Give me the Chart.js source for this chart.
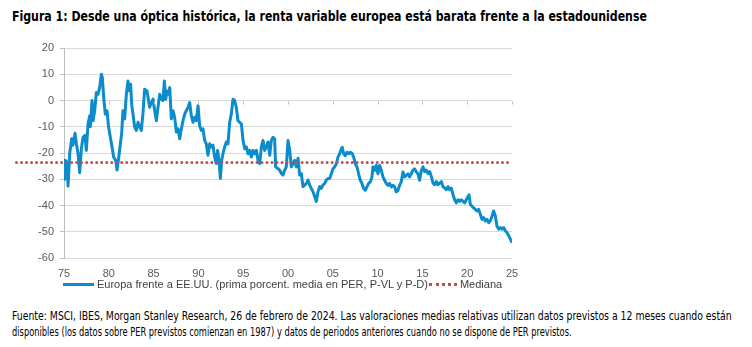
<!DOCTYPE html>
<html lang="es">
<head>
<meta charset="utf-8">
<title>Figura 1</title>
<script src="https://cdn.jsdelivr.net/npm/chart.js@4.4.1/dist/chart.umd.min.js"></script>
<style>
  html, body { margin: 0; padding: 0; background: #fff; }
  body { width: 752px; height: 347px; position: relative; overflow: hidden; }
  .fit { position: absolute; white-space: nowrap; transform-origin: 0 0; }
  #title { left: 12px; top: 8px; font: bold 14px "Liberation Sans Narrow", "DejaVu Sans Condensed", sans-serif; color: #000; }
  #chartBox { position: absolute; left: 0; top: 30px; width: 530px; height: 250px; }
  #legend { position: absolute; left: 63px; top: 278px; display: flex; align-items: center; font: 11px "Liberation Sans", Arial, sans-serif; color: #404040; white-space: nowrap; }
  #legend .solid { display: inline-block; width: 31px; border-top: 3px solid #0b8ccc; margin-right: 3px; }
  #legend .dots { display: inline-block; width: 28px; border-top: 3px dotted #c0504d; margin: 0 3px 0 1px; }
  .note { left: 12px; font: 12px "Liberation Sans Narrow", "DejaVu Sans Condensed", sans-serif; color: #000; }
  #note1 { top: 309px; }
  #note2 { top: 325px; }
</style>
</head>
<body>
<div id="title" class="fit" data-w="635">Figura 1: Desde una óptica histórica, la renta variable europea está barata frente a la estadounidense</div>
<div id="chartBox"><canvas id="chart" width="530" height="250"></canvas></div>
<div id="legend">
  <span class="solid"></span><span>Europa frente a EE.UU. (prima porcent. media en PER, P-VL y P-D)</span><span class="dots"></span><span>Mediana</span>
</div>
<div id="note1" class="fit note" data-w="720">Fuente: MSCI, IBES, Morgan Stanley Research, 26 de febrero de 2024. Las valoraciones medias relativas utilizan datos previstos a 12 meses cuando están</div>
<div id="note2" class="fit note" data-w="560">disponibles (los datos sobre PER previstos comienzan en 1987) y datos de periodos anteriores cuando no se dispone de PER previstos.</div>
<script>
(function() {
  'use strict';

  // fechas (año decimal)
  var dates = [
    1975.00, 1975.08, 1975.22, 1975.35, 1975.45, 1975.64, 1975.86, 1976.00, 1976.23, 1976.38,
    1976.56, 1976.75, 1976.94, 1977.12, 1977.35, 1977.49, 1977.68, 1977.87, 1977.94, 1978.13,
    1978.24, 1978.42, 1978.61, 1978.80, 1978.98, 1979.17, 1979.28, 1979.43, 1979.61, 1979.80,
    1979.98, 1980.17, 1980.36, 1980.54, 1980.77, 1980.92, 1981.10, 1981.29, 1981.43, 1981.58,
    1981.77, 1981.96, 1982.14, 1982.33, 1982.44, 1982.55, 1982.70, 1982.88, 1983.07, 1983.26,
    1983.44, 1983.63, 1983.81, 1984.00, 1984.26, 1984.56, 1984.75, 1984.94, 1985.12, 1985.31,
    1985.49, 1985.68, 1985.87, 1986.05, 1986.20, 1986.35, 1986.50, 1986.68, 1986.80, 1986.98,
    1987.17, 1987.35, 1987.54, 1987.73, 1987.91, 1988.10, 1988.28, 1988.47, 1988.65, 1988.84,
    1989.03, 1989.21, 1989.40, 1989.58, 1989.77, 1989.96, 1990.14, 1990.33, 1990.51, 1990.70,
    1990.88, 1991.07, 1991.26, 1991.44, 1991.63, 1991.81, 1992.00, 1992.15, 1992.30, 1992.45,
    1992.60, 1992.74, 1992.93, 1993.12, 1993.30, 1993.49, 1993.67, 1993.86, 1994.04, 1994.23,
    1994.42, 1994.60, 1994.80, 1994.98, 1995.17, 1995.35, 1995.54, 1995.73, 1995.91, 1996.10,
    1996.28, 1996.47, 1996.65, 1996.84, 1997.03, 1997.21, 1997.40, 1997.58, 1997.77, 1997.96,
    1998.14, 1998.33, 1998.51, 1998.62, 1998.89, 1999.07, 1999.26, 1999.44, 1999.63, 1999.81,
    2000.00, 2000.19, 2000.37, 2000.56, 2000.74, 2000.93, 2001.12, 2001.30, 2001.49, 2001.67,
    2001.86, 2002.05, 2002.23, 2002.42, 2002.60, 2002.79, 2002.97, 2003.16, 2003.35, 2003.53,
    2003.72, 2003.90, 2004.09, 2004.28, 2004.46, 2004.65, 2004.84, 2005.02, 2005.21, 2005.39,
    2005.58, 2005.77, 2005.95, 2006.06, 2006.21, 2006.40, 2006.58, 2006.81, 2006.95, 2007.18,
    2007.33, 2007.51, 2007.70, 2007.88, 2008.07, 2008.26, 2008.44, 2008.63, 2008.81, 2009.00,
    2009.19, 2009.37, 2009.48, 2009.67, 2009.85, 2010.04, 2010.23, 2010.41, 2010.60, 2010.78,
    2010.97, 2011.16, 2011.34, 2011.53, 2011.71, 2011.90, 2012.08, 2012.27, 2012.46, 2012.64,
    2012.83, 2013.01, 2013.20, 2013.39, 2013.57, 2013.76, 2013.94, 2014.13, 2014.32, 2014.50,
    2014.69, 2014.89, 2015.07, 2015.26, 2015.44, 2015.63, 2015.82, 2016.00, 2016.19, 2016.37,
    2016.56, 2016.74, 2016.93, 2017.12, 2017.30, 2017.49, 2017.67, 2017.86, 2018.05, 2018.23,
    2018.42, 2018.60, 2018.79, 2018.98, 2019.16, 2019.35, 2019.53, 2019.72, 2019.90, 2020.09,
    2020.20, 2020.35, 2020.54, 2020.72, 2020.91, 2021.09, 2021.28, 2021.47, 2021.65, 2021.84,
    2022.02, 2022.21, 2022.40, 2022.58, 2022.77, 2022.95, 2023.14, 2023.32, 2023.51, 2023.70,
    2023.88, 2024.07, 2024.25, 2024.44, 2024.63, 2024.81, 2024.92, 2025.00
  ];

  // Europa frente a EE.UU. (prima porcentual media)
  var europeVsUS = [
    -30.0, -22.8, -23.0, -24.0, -32.6, -20.0, -14.6, -17.0, -12.5, -16.5,
    -20.0, -27.5, -18.4, -14.0, -13.3, -19.0, -9.0, -5.8, -10.0, 0.0,
    -7.7, -4.0, 3.0, 2.4, 4.9, 10.0, 8.7, 1.1, -5.2, -3.9,
    -10.2, -14.0, -17.7, -21.5, -22.8, -26.5, -22.0, -16.5, -12.7, -3.9,
    -7.0, 2.4, 7.4, 3.6, 6.2, -1.4, -5.2, -10.0, -11.4, -8.3,
    -10.0, -11.4, -5.0, 4.3, 3.6, -2.6, -0.8, 0.5, -3.9, -7.7,
    -2.6, 2.4, 0.5, 0.0, 7.4, 0.5, 3.6, 2.4, 4.9, -7.0,
    -3.9, -6.4, -12.0, -10.8, -14.6, -10.8, -7.7, -5.2, -3.9, -2.6,
    -0.8, -5.8, -8.3, -6.4, -7.7, -2.0, -9.6, -11.4, -10.8, -15.2,
    -16.5, -20.9, -16.5, -17.7, -17.0, -21.5, -24.0, -19.0, -22.8, -29.7,
    -22.8, -20.3, -17.7, -15.8, -16.5, -8.3, -5.2, 0.5, 0.0, -2.6,
    -7.7, -8.3, -9.0, -15.2, -18.4, -17.7, -20.3, -19.0, -21.5, -19.0,
    -20.3, -19.0, -22.8, -24.0, -17.7, -15.2, -19.0, -17.7, -15.8, -20.9,
    -15.2, -14.0, -14.6, -25.3, -26.0, -26.5, -27.8, -28.4, -26.5, -25.3,
    -15.2, -19.0, -25.3, -24.0, -22.8, -25.3, -22.0, -28.4, -27.8, -32.8,
    -32.2, -31.6, -30.3, -32.2, -33.5, -34.7, -36.6, -38.5, -34.7, -32.8,
    -33.5, -32.2, -31.6, -30.3, -29.7, -29.7, -27.9, -26.0, -25.3, -24.1,
    -21.6, -20.3, -18.4, -17.8, -20.3, -21.0, -19.7, -20.3, -19.7, -20.3,
    -21.6, -24.1, -25.3, -27.9, -30.4, -31.6, -33.5, -34.2, -32.9, -31.6,
    -31.0, -29.1, -25.3, -26.6, -24.7, -27.9, -24.7, -26.6, -29.1, -30.4,
    -31.6, -32.3, -31.6, -32.9, -32.3, -32.9, -34.8, -34.2, -32.3, -31.0,
    -27.2, -29.1, -28.5, -27.9, -29.1, -27.9, -26.6, -26.0, -27.2, -27.9,
    -30.4, -26.5, -25.3, -27.1, -26.5, -27.8, -27.1, -29.0, -31.5, -32.1,
    -30.9, -32.1, -31.5, -30.9, -32.8, -33.4, -34.0, -32.8, -34.0, -33.4,
    -35.9, -37.8, -39.0, -37.8, -38.4, -37.8, -38.4, -39.0, -37.8, -36.5,
    -35.9, -39.6, -40.3, -40.9, -41.5, -42.1, -41.5, -43.4, -45.3, -44.6,
    -45.9, -45.3, -46.5, -45.9, -44.0, -42.1, -44.0, -47.8, -49.0, -48.4,
    -49.0, -48.4, -49.6, -50.3, -51.5, -52.8, -53.4, -54.2
  ];

  // mediana (la linea de Excel arranca a la izquierda del eje)
  var medianDates = [1969.7, 2024.8];
  var medianValue = -23.6;

  var yTicks = { min: -60, max: 20, step: 10 };
  var xTicks = { min: 1975, max: 2025, step: 5 };

  var BLUE = '#0b8ccc';
  var RED = '#c0504d';
  var GRID = '#d9d9d9';
  var AXIS = '#bfbfbf';
  var LABEL = '#595959';

  function toPoints(xs, ys) {
    return xs.map(function(x, i) {
      return { x: x, y: ys[i] };
    });
  }

  function shortYear(value) {
    var v = ((value % 100) + 100) % 100;
    return (v < 10 ? '0' : '') + v;
  }

  // marcas del eje horizontal, que cruza en 0
  var zeroAxisTicks = {
    id: 'zeroAxisTicks',
    afterDatasetsDraw: function(chart) {
      var ctx = chart.ctx;
      var x = chart.scales.x;
      var y0 = Math.round(chart.scales.y.getPixelForValue(0)) + 0.5;
      ctx.save();
      ctx.strokeStyle = AXIS;
      ctx.lineWidth = 1;
      ctx.beginPath();
      x.ticks.forEach(function(t) {
        var px = Math.round(x.getPixelForValue(t.value)) + 0.5;
        ctx.moveTo(px, y0);
        ctx.lineTo(px, y0 + 3);
      });
      ctx.stroke();
      ctx.restore();
    }
  };

  var ctx = document.getElementById('chart').getContext('2d');
  new Chart(ctx, {
    type: 'line',
    data: {
      datasets: [{
        label: 'Europa frente a EE.UU. (prima porcent. media en PER, P-VL y P-D)',
        data: toPoints(dates, europeVsUS),
        borderColor: BLUE,
        borderWidth: 3,
        borderJoinStyle: 'round',
        pointRadius: 0,
        tension: 0,
        order: 1
      }, {
        label: 'Mediana',
        data: toPoints(medianDates, medianDates.map(function() { return medianValue; })),
        borderColor: RED,
        borderWidth: 3,
        borderDash: [0.01, 5],
        borderCapStyle: 'round',
        pointRadius: 0,
        clip: false,
        order: 0
      }]
    },
    options: {
      responsive: false,
      animation: false,
      events: [],
      layout: { padding: { top: 18, right: 18, left: 0, bottom: 0 } },
      plugins: { legend: { display: false }, tooltip: { enabled: false } },
      scales: {
        x: {
          type: 'linear',
          min: xTicks.min,
          max: xTicks.max,
          afterFit: function(scale) { scale.height = 22; },
          ticks: {
            stepSize: xTicks.step,
            padding: 9,
            maxRotation: 0,
            color: LABEL,
            font: { family: '"Liberation Sans", Arial, sans-serif', size: 11 },
            callback: function(value) { return shortYear(value); }
          },
          grid: { display: false, drawTicks: false },
          border: { display: false }
        },
        y: {
          min: yTicks.min,
          max: yTicks.max,
          afterFit: function(scale) { scale.width = 64; },
          ticks: {
            stepSize: yTicks.step,
            padding: 6,
            color: LABEL,
            font: { family: '"Liberation Sans", Arial, sans-serif', size: 11 }
          },
          grid: { color: GRID, tickColor: AXIS, tickLength: 4 },
          border: { color: AXIS }
        }
      }
    },
    plugins: [zeroAxisTicks]
  });

  function fitTexts() {
    var els = document.querySelectorAll('.fit');
    Array.prototype.forEach.call(els, function(el) {
      var target = parseFloat(el.getAttribute('data-w'));
      var w = el.scrollWidth;
      if (w > 0) {
        el.style.transform = 'scaleX(' + (target / w) + ')';
      }
    });
  }

  fitTexts();
  if (document.fonts && document.fonts.ready) {
    document.fonts.ready.then(fitTexts);
  }
}());
</script>
</body>
</html>
